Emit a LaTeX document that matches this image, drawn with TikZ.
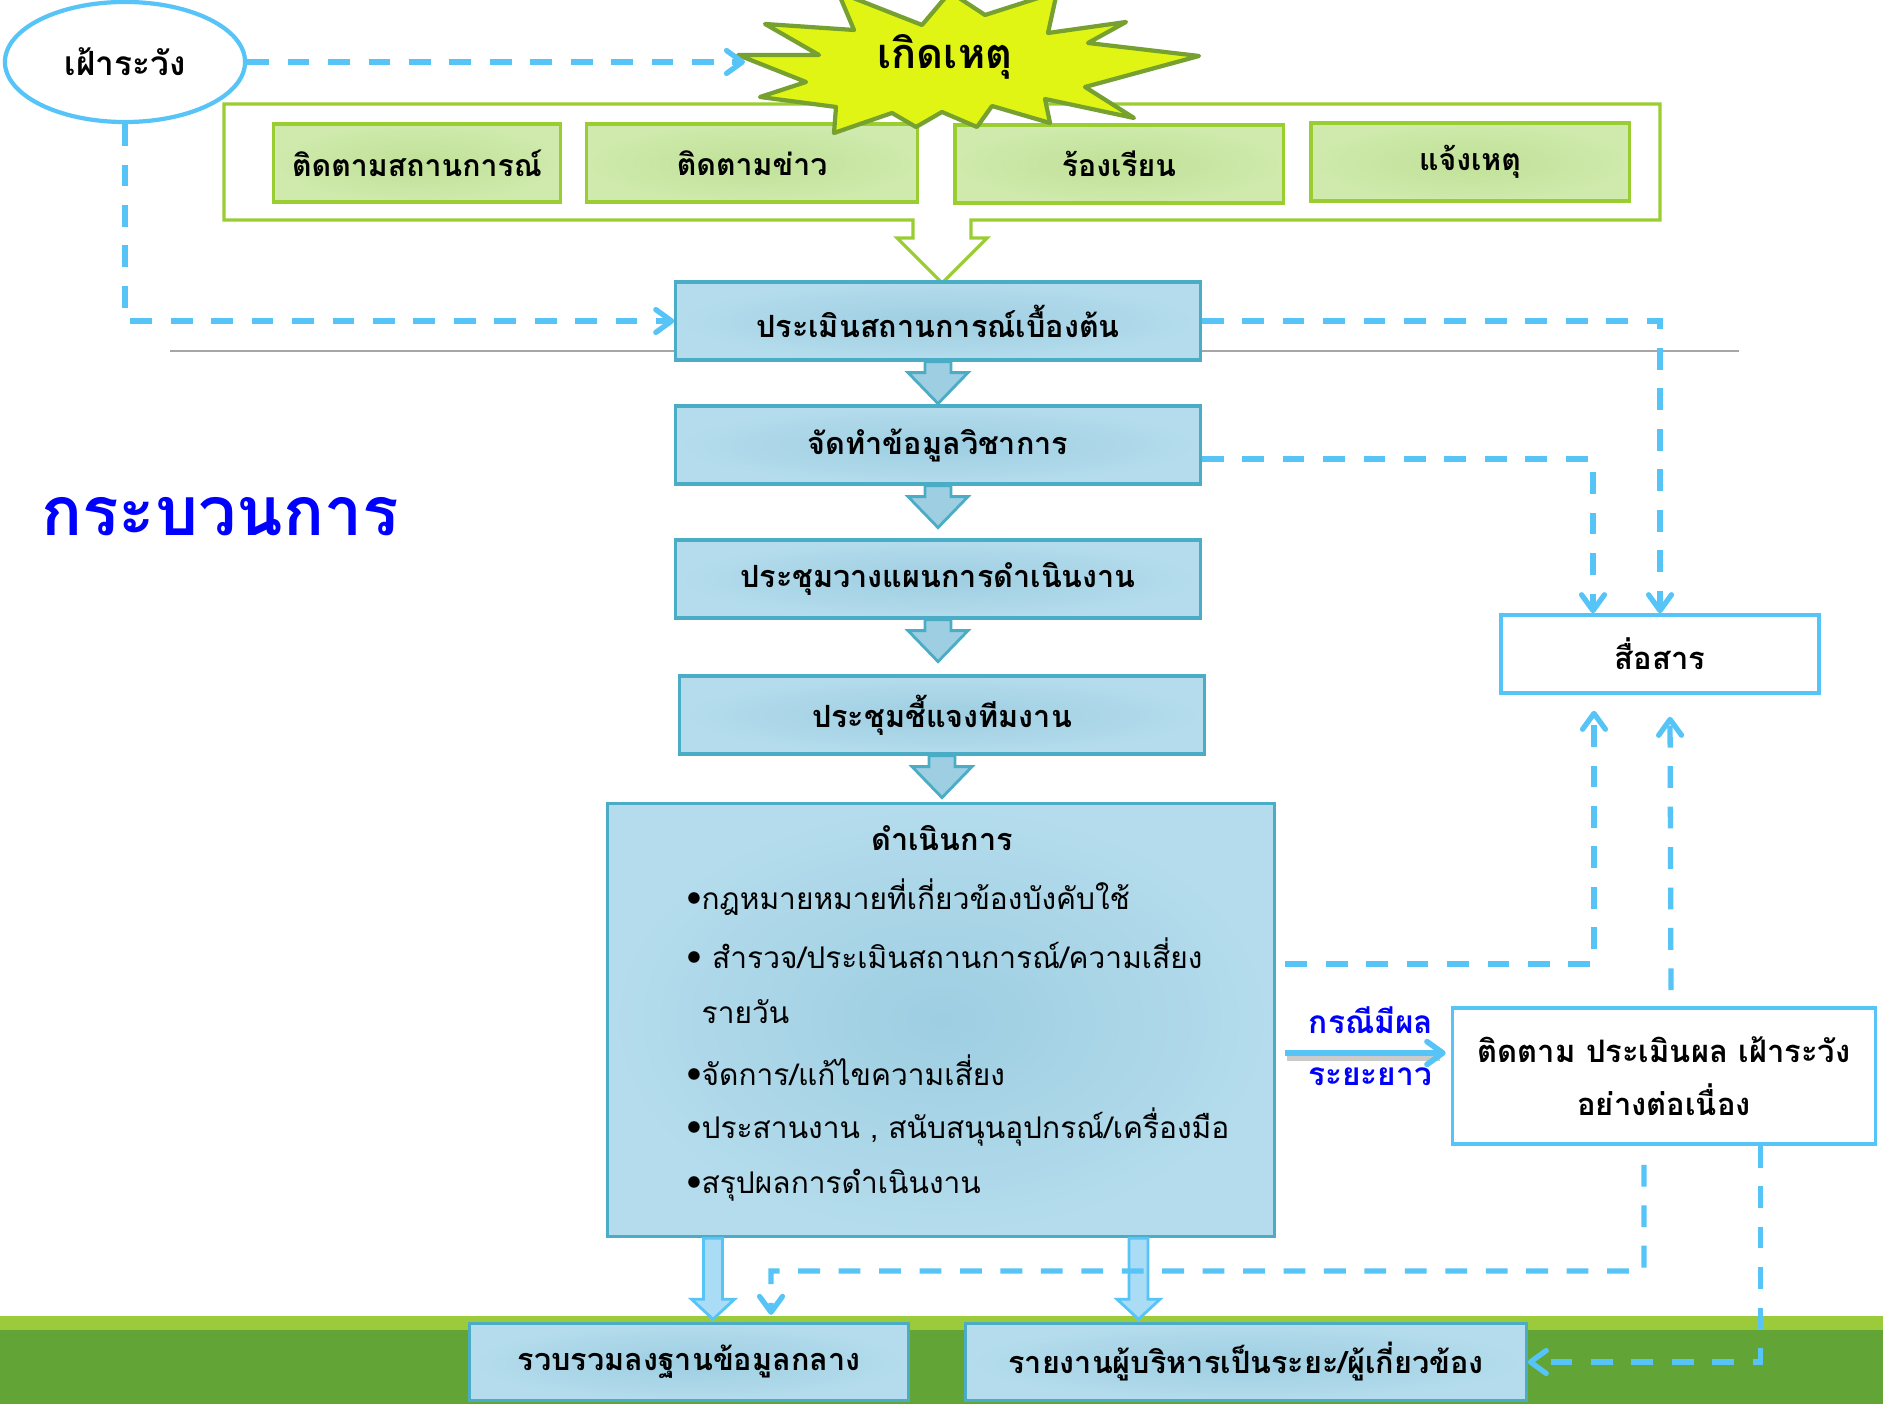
\documentclass[tikz,border=0pt]{standalone}
\usepackage{fontspec}
\setmainfont[Script=Thai]{Loma}
\usetikzlibrary{arrows.meta,calc,shapes.geometric}

\definecolor{dashblue}{RGB}{87,196,247}
\definecolor{boxline}{RGB}{75,172,198}
\definecolor{boxout}{RGB}{180,220,236}
\definecolor{boxin}{RGB}{158,206,226}
\definecolor{grline}{RGB}{154,205,50}
\definecolor{grout}{RGB}{207,234,172}
\definecolor{grin}{RGB}{192,225,152}
\definecolor{starfill}{RGB}{224,245,20}
\definecolor{starline}{RGB}{118,160,48}
\definecolor{bandlight}{RGB}{155,203,58}
\definecolor{banddark}{RGB}{98,164,54}
\definecolor{titleblue}{RGB}{0,0,255}
\definecolor{hollowblue}{RGB}{170,220,246}

% block arrow between two steps
\newcommand{\flowarrow}[1]{%
  \draw[stepflow] ($(#1.south)+(-13,0)$) -- ++(0,11) -- ++(-17,0) -- ++(30,31)
    -- ++(30,-31) -- ++(-17,0) -- ++(0,-11) -- cycle;}
% light arrow down to the bottom boxes
\newcommand{\outarrow}[1]{%
  \draw[outflow] ($(#1)+(-9.5,0)$) -- ++(0,61) -- ++(-12,0) -- ++(21.5,20)
    -- ++(21.5,-20) -- ++(-12,0) -- ++(0,-61) -- cycle;}

\begin{document}
\begin{tikzpicture}[x=0.01cm, y=-0.01cm,
  dashlink/.style={draw=dashblue, line width=1.5pt, dash pattern=on 6.2pt off 5.3pt,
    -{Straight Barb[length=4.5pt,width=6.5pt,round]}},
  stepbox/.style={draw=boxline, line width=0.9pt, shading=radial, outer color=boxout,
    inner color=boxin, minimum width=5.24cm, minimum height=0.78cm, inner sep=0pt,
    font=\bfseries\fontsize{8.7}{11}\selectfont},
  srcbox/.style={draw=grline, line width=0.9pt, shading=radial, outer color=grout,
    inner color=grin, minimum height=0.78cm, inner sep=0pt,
    font=\bfseries\fontsize{8.6}{11}\selectfont},
  whitebox/.style={draw=dashblue, line width=1pt, fill=white, inner sep=0pt,
    font=\bfseries\fontsize{8.8}{11}\selectfont, align=center},
  stepflow/.style={draw=boxline, line width=0.8pt, fill=boxin},
  outflow/.style={draw=dashblue, line width=0.8pt, fill=hollowblue},
  itemtxt/.style={anchor=west, inner sep=0pt, font=\fontsize{8.5}{11}\selectfont},
  bluetxt/.style={text=titleblue, font=\bfseries\fontsize{9}{11}\selectfont}]

  \useasboundingbox (0,0) rectangle (1883,1404);
  \fill[white] (0,0) rectangle (1883,1404);

  % ground band
  \fill[bandlight] (0,1316) rectangle (1883,1330);
  \fill[banddark] (0,1330) rectangle (1883,1404);
  \draw[black!35, line width=0.5pt] (170,351) -- (1739,351);

  % sources frame with its arrow
  \draw[grline, line width=0.9pt, fill=white]
    (224,104) -- (1660,104) -- (1660,220) -- (971,220) -- (971,238) -- (987,238)
    -- (942,283) -- (897,238) -- (913,238) -- (913,220) -- (224,220) -- cycle;
  \path node (g1) at (417,163) [srcbox, minimum width=2.87cm] {ติดตามสถานการณ์}
        node (g2) at (752,163) [srcbox, minimum width=3.31cm] {ติดตามข่าว}
        node (g3) at (1119,164) [srcbox, minimum width=3.28cm] {ร้องเรียน}
        node (g4) at (1470,162) [srcbox, minimum width=3.18cm] {แจ้งเหตุ};

  % explosion
  \draw[starline, line width=1.2pt, fill=starfill, line join=round]
    (738,55) -- (819,55) -- (765,24) -- (854,30) -- (838,-8) -- (922,25) -- (950,-8)
    -- (985,15) -- (1057,-8) -- (1048,33) -- (1126,22) -- (1088,43) -- (1199,56)
    -- (1085,87) -- (1134,118) -- (1045,99) -- (1050,123) -- (992,106) -- (977,127)
    -- (942,112) -- (916,127) -- (892,113) -- (834,133) -- (836,107) -- (760,97)
    -- (806,82) -- cycle;
  \node (ev) at (945,57) [font=\bfseries\fontsize{11.8}{14}\selectfont] {เกิดเหตุ};
  \coordinate (evin) at (745,62);

  \node (wr) at (125,62) [ellipse, draw=dashblue, line width=1.2pt, fill=white,
    minimum width=2.4cm, minimum height=1.2cm, inner sep=0pt,
    font=\bfseries\fontsize{9.5}{11}\selectfont] {เฝ้าระวัง};

  \node (title) at (220,517) [text=titleblue, font=\bfseries\fontsize{19.3}{22}\selectfont] {กระบวนการ};

  % main steps
  \path node (b1) at (938,321) [stepbox] {ประเมินสถานการณ์เบื้องต้น}
        node (b2) at (938,445) [stepbox] {จัดทำข้อมูลวิชาการ}
        node (b3) at (938,579) [stepbox] {ประชุมวางแผนการดำเนินงาน}
        node (b4) at (942,715) [stepbox] {ประชุมชี้แจงทีมงาน}
        node (b5) at (941,1020) [stepbox, minimum width=6.67cm, minimum height=4.33cm] {};
  \flowarrow{b1}
  \flowarrow{b2}
  \flowarrow{b3}
  \flowarrow{b4}

  \node (b5h) at (942,838) [font=\bfseries\fontsize{8.7}{11}\selectfont] {ดำเนินการ};
  \node (i1) at (686,897) [itemtxt] {\raisebox{1pt}{$\bullet$}กฎหมายหมายที่เกี่ยวข้องบังคับใช้};
  \node (i2) at (686,953) [itemtxt] {\raisebox{1pt}{$\bullet$}\hspace{3pt}สำรวจ/ประเมินสถานการณ์/ความเสี่ยง};
  \node (i3) at (701,1012) [itemtxt] {รายวัน};
  \node (i4) at (686,1070) [itemtxt] {\raisebox{1pt}{$\bullet$}จัดการ/แก้ไขความเสี่ยง};
  \node (i5) at (686,1127) [itemtxt] {\raisebox{1pt}{$\bullet$}ประสานงาน , สนับสนุนอุปกรณ์/เครื่องมือ};
  \node (i6) at (686,1185) [itemtxt] {\raisebox{1pt}{$\bullet$}สรุปผลการดำเนินงาน};

  % right side
  \node (com) at (1660,654) [whitebox, minimum width=3.18cm, minimum height=0.78cm] {สื่อสาร};
  \node (mon) at (1664,1076) [whitebox, minimum width=4.23cm, minimum height=1.36cm]
    {ติดตาม ประเมินผล เฝ้าระวัง\\[4pt]อย่างต่อเนื่อง};

  % bottom
  \path node (db)  at (689,1362)  [stepbox, minimum width=4.38cm, minimum height=0.77cm] {รวบรวมลงฐานข้อมูลกลาง}
        node (rep) at (1246,1362) [stepbox, minimum width=5.6cm, minimum height=0.77cm] {รายงานผู้บริหารเป็นระยะ/ผู้เกี่ยวข้อง};
  \outarrow{$(b5.south -| db.north)+(24,0)$}
  \outarrow{$(b5.south -| rep.north)+(-107.5,0)$}

  % dashed links
  \draw[dashlink] (wr.east) -- (evin);
  \draw[dashlink] (wr.south) |- (b1.west);
  \draw[dashlink] (b1.east) -| (com.north);
  \draw[dashlink] ([yshift=-0.14cm]b2.east) -| ([xshift=-0.67cm]com.north);
  \draw[dashlink] ([shift={(0.09cm,0.56cm)}]b5.east) -| ([shift={(-0.66cm,-0.16cm)}]com.south);
  \draw[dashlink, shorten <=0.16cm] ([xshift=0.07cm]mon.north) -- ([shift={(0.1cm,-0.22cm)}]com.south);
  \coordinate (j1) at (771,1271);
  \draw[dashlink, shorten <=0.19cm] ([xshift=-0.2cm]mon.south) |- (j1) -- ([shift={(0.82cm,0.07cm)}]db.north);
  \draw[dashlink] ([xshift=0.965cm]mon.south) |- (rep.east);

  % long term
  \coordinate (l1) at ($(b5.east)+(9,33)$);
  \coordinate (l2) at ($(mon.west)+(-5,-23)$);
  \draw[black!40, line width=1.8pt, opacity=.5] ($(l1)+(2,5)$) -- ($(l2)+(-6,5)$);
  \draw[draw=dashblue, line width=1.6pt, -{Straight Barb[length=4.5pt,width=6.5pt,round]}] (l1) -- (l2);
  \node (lt1) at (1371,1020) [bluetxt] {กรณีมีผล};
  \node (lt2) at (1370,1077) [bluetxt] {ระยะยาว};
\end{tikzpicture}
\end{document}
